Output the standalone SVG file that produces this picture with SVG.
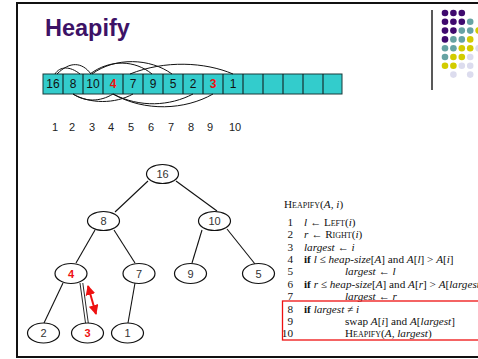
<svg xmlns="http://www.w3.org/2000/svg" width="478" height="359" viewBox="0 0 478 359">
<defs>
<style>
.cell{fill:#33cccc;stroke:#1a3a3a;stroke-width:1}
.at{font-family:"Liberation Sans",Arial,sans-serif;font-size:12px;fill:#111;text-anchor:middle}
.red{fill:#ee1111;font-weight:bold}
.idx{font-family:"Liberation Sans",Arial,sans-serif;font-size:11px;fill:#222;text-anchor:middle}
.arc{fill:none;stroke:#111;stroke-width:1}
.node ellipse{fill:#fff;stroke:#111;stroke-width:1.2}
.node text{font-family:"Liberation Sans",Arial,sans-serif;font-size:11px;fill:#333;text-anchor:middle}
.node text.r{fill:#ee1111;font-weight:bold}
.edge{stroke:#111;stroke-width:1.1;fill:none}
.code{font-family:"Liberation Serif","Times New Roman",serif;font-size:11.2px;fill:#111}
.num{text-anchor:end}
.sc{font-variant:small-caps}
.it{font-style:italic}
.b{font-weight:bold}
.dP{fill:#3f0a6e}.dT{fill:#66a3a3}.dY{fill:#d2cc00}.dL{fill:#dcdcee}
</style>
<marker id="ah" viewBox="0 0 10 10" refX="9" refY="5" markerWidth="5" markerHeight="5" orient="auto-start-reverse">
<path d="M0,0 L10,5 L0,10 z" fill="#ee1111"/>
</marker>
</defs>
<rect width="478" height="359" fill="#fff"/>
<rect x="17" y="3" width="480" height="354" fill="none" stroke="#111" stroke-width="2"/>
<line x1="432" y1="10" x2="432" y2="90" stroke="#222" stroke-width="1.5"/>
<g id="dots">
<circle class="dP" cx="445" cy="13" r="3.3"/><circle class="dP" cx="453.4" cy="13" r="3.3"/><circle class="dP" cx="461.8" cy="13" r="3.3"/>
<circle class="dP" cx="445" cy="21.8" r="3.3"/><circle class="dP" cx="453.4" cy="21.8" r="3.3"/><circle class="dP" cx="461.8" cy="21.8" r="3.3"/><circle class="dT" cx="470.2" cy="21.8" r="3.3"/>
<circle class="dP" cx="445" cy="30.6" r="3.3"/><circle class="dP" cx="453.4" cy="30.6" r="3.3"/><circle class="dT" cx="461.8" cy="30.6" r="3.3"/><circle class="dT" cx="470.2" cy="30.6" r="3.3"/><circle class="dY" cx="478.6" cy="30.6" r="3.3"/>
<circle class="dP" cx="445" cy="39.4" r="3.3"/><circle class="dT" cx="453.4" cy="39.4" r="3.3"/><circle class="dT" cx="461.8" cy="39.4" r="3.3"/><circle class="dY" cx="470.2" cy="39.4" r="3.3"/>
<circle class="dT" cx="445" cy="48.2" r="3.3"/><circle class="dT" cx="453.4" cy="48.2" r="3.3"/><circle class="dY" cx="461.8" cy="48.2" r="3.3"/><circle class="dY" cx="470.2" cy="48.2" r="3.3"/><circle class="dL" cx="478.6" cy="48.2" r="3.3"/>
<circle class="dT" cx="445" cy="57" r="3.3"/><circle class="dY" cx="453.4" cy="57" r="3.3"/><circle class="dY" cx="461.8" cy="57" r="3.3"/><circle class="dL" cx="470.2" cy="57" r="3.3"/>
<circle class="dY" cx="445" cy="65.8" r="3.3"/><circle class="dY" cx="453.4" cy="65.8" r="3.3"/><circle class="dL" cx="461.8" cy="65.8" r="3.3"/><circle class="dL" cx="470.2" cy="65.8" r="3.3"/>
<circle class="dL" cx="453.4" cy="74.6" r="3.3"/><circle class="dL" cx="470.2" cy="74.6" r="3.3"/>
</g>
<text x="45" y="36" font-family="'Liberation Sans',Arial,sans-serif" font-size="23.5" font-weight="bold" fill="#3d1266">Heapify</text>
<g id="array">
<rect class="cell" x="43" y="74" width="299" height="20"/>
<path d="M63,74V94M83,74V94M103,74V94M123,74V94M143,74V94M163,74V94M183,74V94M203,74V94M223,74V94M243,74V94M263,74V94M283,74V94M303,74V94M323,74V94" stroke="#111" stroke-width="1"/>
<text class="at" x="53" y="88">16</text>
<text class="at" x="73" y="88">8</text>
<text class="at" x="93" y="88">10</text>
<text class="at red" x="113" y="88">4</text>
<text class="at" x="133" y="88">7</text>
<text class="at" x="153" y="88">9</text>
<text class="at" x="173" y="88">5</text>
<text class="at" x="193" y="88">2</text>
<text class="at red" x="213" y="88">3</text>
<text class="at" x="233" y="88">1</text>
<path class="arc" d="M55,74 C60,66 70,66 80,74"/>
<path class="arc" d="M57,74 C70,61 82,62 91,74"/>
<path class="arc" d="M90,74 C110,59 135,60 152,74"/>
<path class="arc" d="M92,74 C115,57 150,58 172,74"/>
<path class="arc" d="M130,74 C165,60 205,62 233,74"/>
<path class="arc" d="M73,94 C85,102 100,102 113,94"/>
<path class="arc" d="M73,94 C90,104 115,104 133,94"/>
<path class="arc" d="M113,94 C140,108 170,106 193,94"/>
<path class="arc" d="M113,94 C145,112 185,110 213,94"/>
</g>
<g id="indices">
<text class="idx" x="55" y="131">1</text>
<text class="idx" x="72" y="131">2</text>
<text class="idx" x="92" y="131">3</text>
<text class="idx" x="111" y="131">4</text>
<text class="idx" x="131" y="131">5</text>
<text class="idx" x="151" y="131">6</text>
<text class="idx" x="171" y="131">7</text>
<text class="idx" x="191" y="131">8</text>
<text class="idx" x="210" y="131">9</text>
<text class="idx" x="235" y="131">10</text>
</g>
<g id="connectors">
<line class="edge" x1="148" y1="181" x2="115" y2="212"/>
<line class="edge" x1="176" y1="181" x2="217" y2="211"/>
<line class="edge" x1="95" y1="230" x2="76" y2="263"/>
<line class="edge" x1="114" y1="230" x2="135" y2="263"/>
<line class="edge" x1="202" y1="230" x2="192" y2="263"/>
<line class="edge" x1="227" y1="229" x2="255" y2="264"/>
<line class="edge" x1="63" y1="283" x2="44" y2="323"/>
<line x1="80" y1="283" x2="85.5" y2="323" stroke="#111" stroke-width="0.9"/>
<line x1="82.8" y1="283" x2="88.3" y2="323" stroke="#111" stroke-width="0.9"/>
<line class="edge" x1="135" y1="283" x2="128" y2="323"/>
<line x1="88" y1="286" x2="96" y2="314" stroke="#ee1111" stroke-width="2" marker-start="url(#ah)" marker-end="url(#ah)"/>
</g>
<g id="n16" class="node"><ellipse cx="162.5" cy="174" rx="16" ry="9.5"/><text x="162.5" y="178">16</text></g>
<g id="n8" class="node"><ellipse cx="103.5" cy="221" rx="16" ry="9.5"/><text x="103.5" y="225">8</text></g>
<g id="n10" class="node"><ellipse cx="214.5" cy="221" rx="16" ry="9.5"/><text x="214.5" y="225">10</text></g>
<g id="n4" class="node"><ellipse cx="71" cy="273.5" rx="16" ry="10"/><text class="r" x="71" y="277.5">4</text></g>
<g id="n7" class="node"><ellipse cx="139" cy="273.5" rx="16" ry="10"/><text x="139" y="277.5">7</text></g>
<g id="n9" class="node"><ellipse cx="190.5" cy="273.5" rx="16" ry="10"/><text x="190.5" y="277.5">9</text></g>
<g id="n5" class="node"><ellipse cx="258.5" cy="273.5" rx="16" ry="10"/><text x="258.5" y="277.5">5</text></g>
<g id="n2" class="node"><ellipse cx="43.5" cy="333" rx="16" ry="10"/><text x="43.5" y="337">2</text></g>
<g id="n3" class="node"><ellipse cx="87.5" cy="333" rx="16" ry="10"/><text class="r" x="87.5" y="337">3</text></g>
<g id="n1" class="node"><ellipse cx="127.5" cy="333" rx="16" ry="10"/><text x="127.5" y="337">1</text></g>
<g id="code" class="code">
<text x="284" y="208"><tspan class="sc">Heapify</tspan>(<tspan class="it">A, i</tspan>)</text>
<text class="num" x="293" y="225.8">1</text>
<text x="304" y="225.8"><tspan class="it">l</tspan> ← <tspan class="sc">Left</tspan>(<tspan class="it">i</tspan>)</text>
<text class="num" x="293" y="238.2">2</text>
<text x="304" y="238.2"><tspan class="it">r</tspan> ← <tspan class="sc">Right</tspan>(<tspan class="it">i</tspan>)</text>
<text class="num" x="293" y="250.6">3</text>
<text x="304" y="250.6"><tspan class="it">largest</tspan> ← <tspan class="it">i</tspan></text>
<text class="num" x="293" y="263">4</text>
<text x="304" y="263"><tspan class="b">if</tspan> <tspan class="it">l</tspan> ≤ <tspan class="it">heap-size</tspan>[<tspan class="it">A</tspan>] and <tspan class="it">A</tspan>[<tspan class="it">l</tspan>] &gt; <tspan class="it">A</tspan>[<tspan class="it">i</tspan>]</text>
<text class="num" x="293" y="275.4">5</text>
<text x="345" y="275.4"><tspan class="it">largest</tspan> ← <tspan class="it">l</tspan></text>
<text class="num" x="293" y="287.8">6</text>
<text x="304" y="287.8"><tspan class="b">if</tspan> <tspan class="it">r</tspan> ≤ <tspan class="it">heap-size</tspan>[<tspan class="it">A</tspan>] and <tspan class="it">A</tspan>[<tspan class="it">r</tspan>] &gt; <tspan class="it">A</tspan>[<tspan class="it">largest</tspan>]</text>
<text class="num" x="293" y="300.2">7</text>
<text x="345" y="300.2"><tspan class="it">largest</tspan> ← <tspan class="it">r</tspan></text>
<text class="num" x="293" y="312.6">8</text>
<text x="304" y="312.6"><tspan class="b">if</tspan> <tspan class="it">largest</tspan> ≠ <tspan class="it">i</tspan></text>
<text class="num" x="293" y="325">9</text>
<text x="345" y="325">swap <tspan class="it">A</tspan>[<tspan class="it">i</tspan>] and <tspan class="it">A</tspan>[<tspan class="it">largest</tspan>]</text>
<text class="num" x="293" y="337.4">10</text>
<text x="345" y="337.4"><tspan class="sc">Heapify</tspan>(<tspan class="it">A, largest</tspan>)</text>
</g>
<rect x="282.5" y="301" width="200" height="39" fill="none" stroke="#ee1111" stroke-width="1.3"/>
</svg>
